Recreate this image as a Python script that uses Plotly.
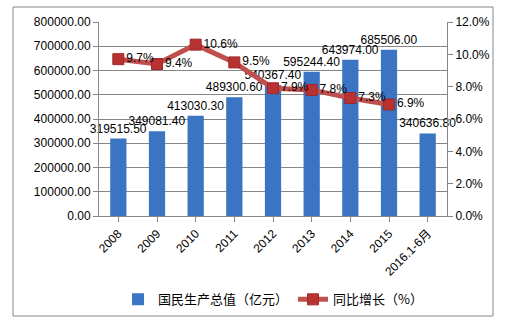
import plotly.graph_objects as go

categories = ["2008", "2009", "2010", "2011", "2012", "2013", "2014", "2015", "2016.1-6月"]
gdp = [319515.50, 349081.40, 413030.30, 489300.60, 540367.40, 595244.40, 643974.00, 685506.00, 340636.80]
growth_cats = ["2008", "2009", "2010", "2011", "2012", "2013", "2014", "2015"]
growth = [9.7, 9.4, 10.6, 9.5, 7.9, 7.8, 7.3, 6.9]

font_main = "Arial, Liberation Sans, Noto Sans CJK SC"

fig = go.Figure()
fig.add_trace(go.Bar(
    x=categories, y=gdp, name="国民生产总值（亿元）",
    marker=dict(color="#3a74c2", line=dict(width=0)),
    width=0.42,
    text=[f"{v:.2f}" for v in gdp], textposition="outside", constraintext="none",
    textfont=dict(size=12, color="#000000"), cliponaxis=False,
))
fig.add_trace(go.Scatter(
    x=growth_cats, y=growth, name="同比增长（%）", yaxis="y2",
    mode="lines+markers+text",
    line=dict(color="#c0504d", width=5),
    marker=dict(symbol="square", size=11, color="#b83232", line=dict(color="#a02828", width=1)),
    text=[f"{v}%" for v in growth], textposition="middle right",
    textfont=dict(size=12, color="#000000"), cliponaxis=False,
))

fig.update_layout(
    width=506, height=327,
    margin=dict(l=99, r=59, t=22, b=111),
    paper_bgcolor="white", plot_bgcolor="white",
    font=dict(family=font_main, size=12, color="#000000"),
    showlegend=True,
    legend=dict(orientation="h", x=0.5, xanchor="center", y=-0.43, yanchor="middle",
                font=dict(size=13, family="Noto Sans CJK SC"), itemwidth=30, tracegroupgap=0),
    xaxis=dict(type="category", tickangle=-45, showgrid=False, showline=True, linecolor="#868686",
               ticks="outside", ticklen=5, tickcolor="#868686", tickfont=dict(size=12),
               range=[-0.5, 8.5]),
    yaxis=dict(range=[0, 800000], dtick=100000, tickformat=".2f", showgrid=True, gridcolor="#868686",
               gridwidth=1, showline=True, linecolor="#868686", ticks="outside", ticklen=5,
               tickcolor="#868686", zeroline=False, tickfont=dict(size=12)),
    yaxis2=dict(range=[0, 12], dtick=2, tickformat=".1f", ticksuffix="%", overlaying="y", side="right",
                showgrid=False, showline=True, linecolor="#868686", ticks="outside", ticklen=5,
                tickcolor="#868686", zeroline=False, tickfont=dict(size=12)),
    bargap=0.58,
    shapes=[dict(type="rect", xref="paper", yref="paper",
                 x0=(13 - 99) / 348, x1=(493 - 99) / 348,
                 y0=(216 - 316) / 194, y1=(216 - 7) / 194,
                 line=dict(color="#868686", width=1), layer="below")],
)

fig.write_html("out.html")
